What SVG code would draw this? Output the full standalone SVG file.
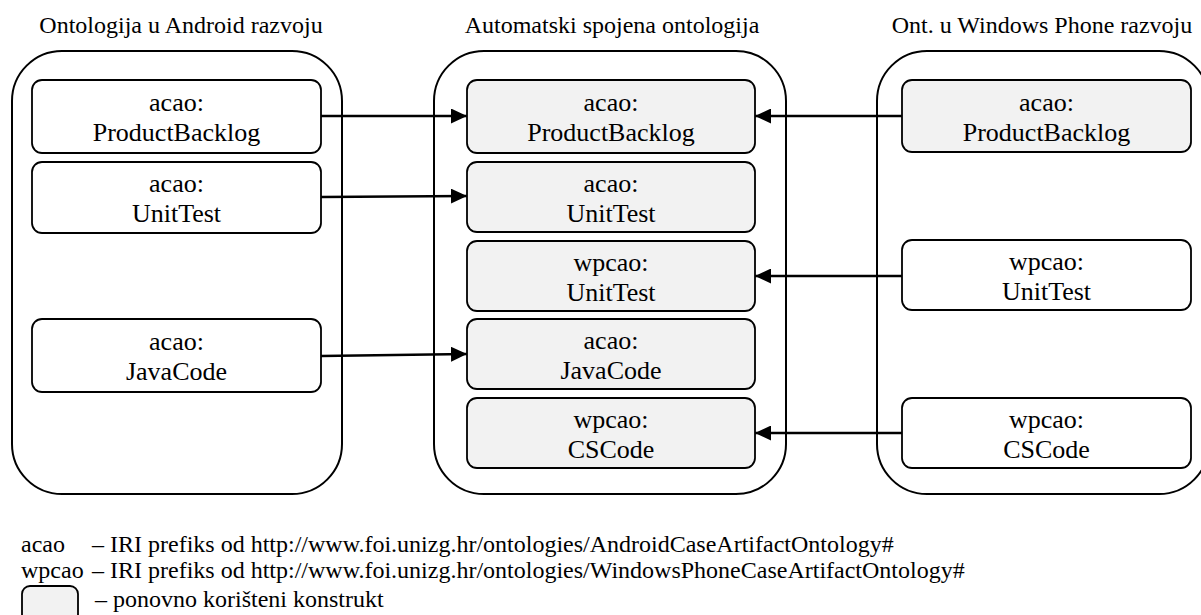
<svg xmlns="http://www.w3.org/2000/svg" width="1201" height="615" viewBox="0 0 1201 615">
<style>
text{font-family:"Liberation Serif","Times New Roman",serif;fill:#000}
.title{font-size:24px;text-anchor:middle}
.lbl{font-size:26px;text-anchor:middle}
.leg{font-size:24px}
.cont{fill:#fff;stroke:#000;stroke-width:2}
.node{fill:#fff;stroke:#000;stroke-width:1.8}
.reuse{fill:#f2f2f2;stroke:#000;stroke-width:1.8}
.conn{stroke:#000;stroke-width:2.5;fill:none;marker-end:url(#ah)}
</style>
<defs>
<marker id="ah" markerUnits="userSpaceOnUse" markerWidth="16" markerHeight="15" refX="16" refY="7.5" orient="auto">
<path d="M0,0 L16,7.5 L0,15 z" fill="#000"/>
</marker>
</defs>
<rect width="1201" height="615" fill="#fff"/>

<g id="titles">
<text class="title" x="181" y="33">Ontologija u Android razvoju</text>
<text class="title" x="612" y="33">Automatski spojena ontologija</text>
<text class="title" x="1042" y="33">Ont. u Windows Phone razvoju</text>
</g>

<g id="containers">
<rect id="android" class="cont" x="12" y="51" width="330" height="443" rx="50"/>
<rect id="merged" class="cont" x="434" y="51" width="352" height="443" rx="50"/>
<rect id="windows" class="cont" x="877" y="51" width="332" height="443" rx="50"/>
</g>

<g id="a-productbacklog">
<rect class="node" x="32" y="80" width="289" height="73" rx="10"/>
<text class="lbl" x="176.5" y="111">acao:</text>
<text class="lbl" x="176.5" y="141">ProductBacklog</text>
</g>
<g id="a-unittest">
<rect class="node" x="32" y="162" width="289" height="71" rx="10"/>
<text class="lbl" x="176.5" y="192">acao:</text>
<text class="lbl" x="176.5" y="222">UnitTest</text>
</g>
<g id="a-javacode">
<rect class="node" x="32" y="319" width="289" height="73" rx="10"/>
<text class="lbl" x="176.5" y="350">acao:</text>
<text class="lbl" x="176.5" y="380">JavaCode</text>
</g>

<g id="m-productbacklog">
<rect class="reuse" x="467" y="80" width="288" height="73" rx="10"/>
<text class="lbl" x="611" y="111">acao:</text>
<text class="lbl" x="611" y="141">ProductBacklog</text>
</g>
<g id="m-unittest-a">
<rect class="reuse" x="467" y="162" width="288" height="70" rx="10"/>
<text class="lbl" x="611" y="192">acao:</text>
<text class="lbl" x="611" y="222">UnitTest</text>
</g>
<g id="m-unittest-wp">
<rect class="reuse" x="467" y="241" width="288" height="70" rx="10"/>
<text class="lbl" x="611" y="271">wpcao:</text>
<text class="lbl" x="611" y="301">UnitTest</text>
</g>
<g id="m-javacode">
<rect class="reuse" x="467" y="319" width="288" height="70" rx="10"/>
<text class="lbl" x="611" y="349">acao:</text>
<text class="lbl" x="611" y="379">JavaCode</text>
</g>
<g id="m-cscode">
<rect class="reuse" x="467" y="398" width="288" height="70" rx="10"/>
<text class="lbl" x="611" y="428">wpcao:</text>
<text class="lbl" x="611" y="458">CSCode</text>
</g>

<g id="w-productbacklog">
<rect class="reuse" x="902" y="80" width="289" height="72" rx="10"/>
<text class="lbl" x="1046.5" y="111">acao:</text>
<text class="lbl" x="1046.5" y="141">ProductBacklog</text>
</g>
<g id="w-unittest">
<rect class="node" x="902" y="240" width="289" height="70" rx="10"/>
<text class="lbl" x="1046.5" y="270">wpcao:</text>
<text class="lbl" x="1046.5" y="300">UnitTest</text>
</g>
<g id="w-cscode">
<rect class="node" x="902" y="398" width="289" height="70" rx="10"/>
<text class="lbl" x="1046.5" y="428">wpcao:</text>
<text class="lbl" x="1046.5" y="458">CSCode</text>
</g>

<g id="connectors">
<line class="conn" x1="321" y1="116" x2="467" y2="116"/>
<line class="conn" x1="321" y1="197" x2="467" y2="196"/>
<line class="conn" x1="321" y1="356" x2="467" y2="354"/>
<line class="conn" x1="902" y1="116" x2="755" y2="116"/>
<line class="conn" x1="902" y1="276" x2="755" y2="276"/>
<line class="conn" x1="902" y1="433" x2="755" y2="433"/>
</g>

<g id="legend">
<text class="leg" x="21" y="552">acao</text>
<text class="leg" x="92" y="552">– IRI prefiks od http://www.foi.unizg.hr/ontologies/AndroidCaseArtifactOntology#</text>
<text class="leg" x="21" y="578">wpcao</text>
<text class="leg" x="92" y="578">– IRI prefiks od http://www.foi.unizg.hr/ontologies/WindowsPhoneCaseArtifactOntology#</text>
<rect class="reuse" x="22" y="586" width="56" height="40" rx="8"/>
<text class="leg" x="95" y="607">– ponovno korišteni konstrukt</text>
</g>
</svg>
